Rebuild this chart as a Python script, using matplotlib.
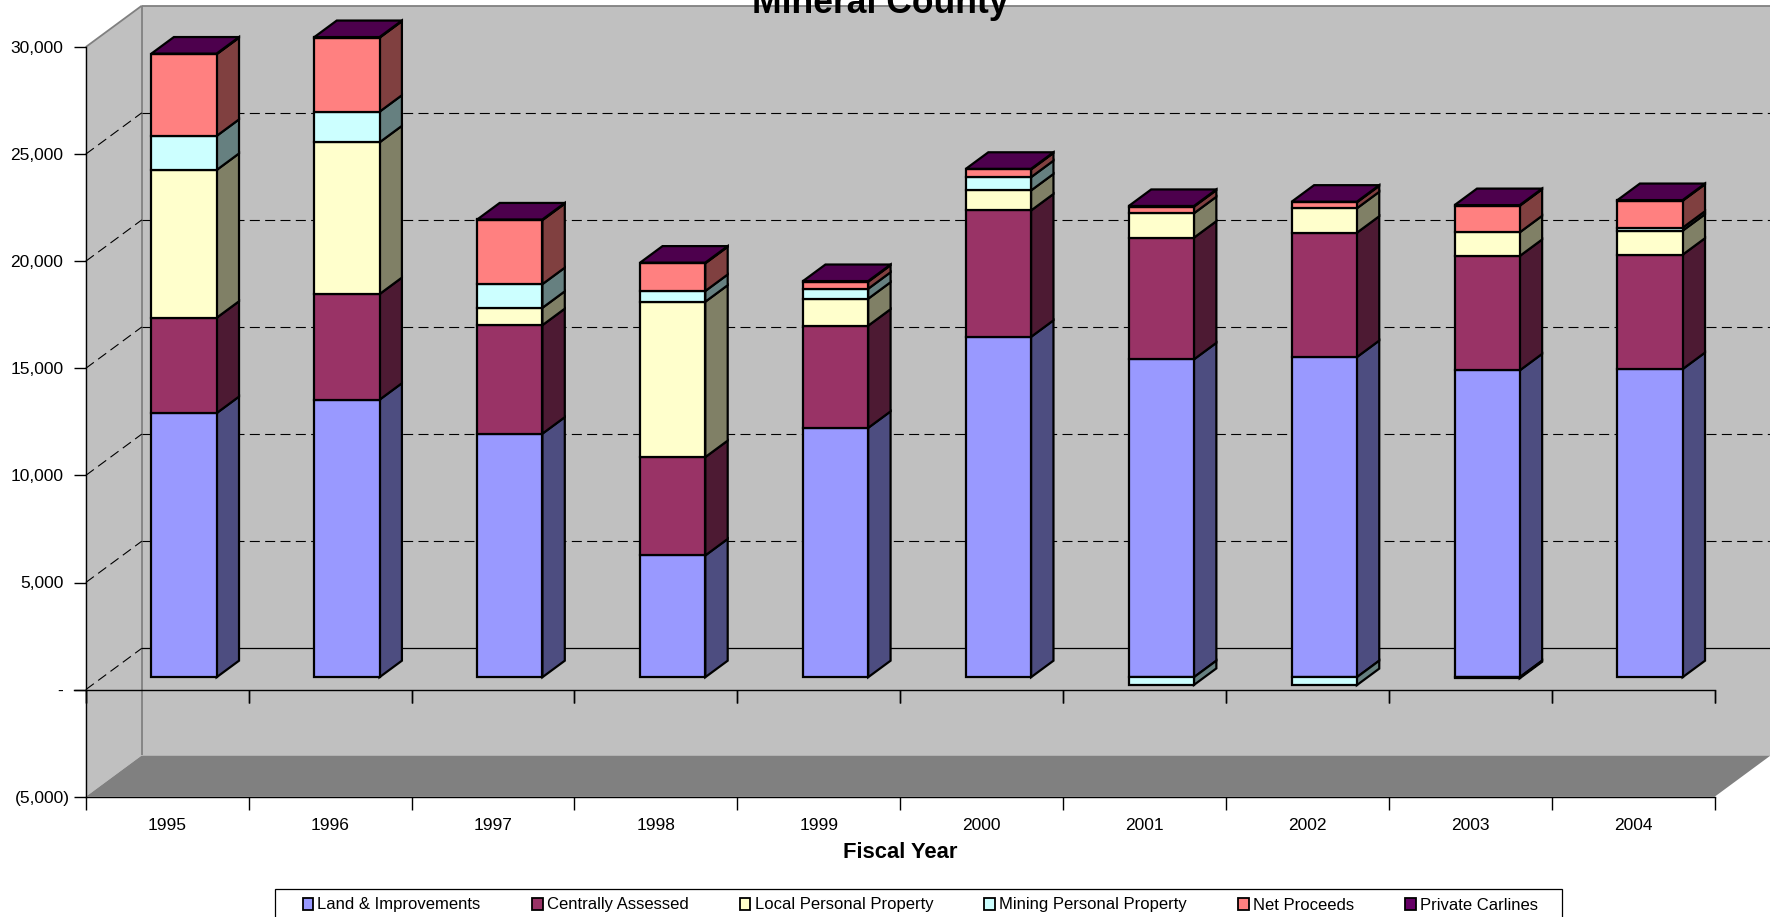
import matplotlib
matplotlib.use("Agg")
import matplotlib.pyplot as plt
from matplotlib.patches import Polygon, Patch, Rectangle
from matplotlib.transforms import ScaledTranslation

plt.rcParams['font.family'] = ['Liberation Sans', 'DejaVu Sans']

years = ['1995', '1996', '1997', '1998', '1999', '2000', '2001', '2002', '2003', '2004']
land = [12330, 12955, 11370, 5685, 11640, 15890, 14840, 14945, 14325, 14385]
centrally = [4450, 4930, 5065, 4590, 4770, 5900, 5680, 5805, 5340, 5340]
local_pp = [6900, 7085, 810, 7255, 1260, 935, 1140, 1140, 1105, 1120]
mining_pp = [1590, 1430, 1105, 500, 465, 620, -360, -370, -50, 140]
net_proceeds = [3815, 3455, 2990, 1295, 330, 360, 310, 280, 1240, 1260]
private_carlines = [30, 30, 30, 30, 30, 30, 30, 30, 30, 30]

series_names = ['Land & Improvements', 'Centrally Assessed', 'Local Personal Property',
                'Mining Personal Property', 'Net Proceeds', 'Private Carlines']
series_values = [land, centrally, local_pp, mining_pp, net_proceeds, private_carlines]
front_colors = ['#9999FF', '#993366', '#FFFFCC', '#CCFFFF', '#FF8080', '#660066']
side_colors = ['#4D4D80', '#4D1A33', '#808066', '#668080', '#804040', '#330033']
top_colors = ['#7373BF', '#73264D', '#BFBF99', '#99BFBF', '#BF6060', '#4D004D']

yticks = [-5000, 0, 5000, 10000, 15000, 20000, 25000, 30000]
gridvals = [5000, 10000, 15000, 20000, 25000]

W, H = 1770, 917
fig = plt.figure(figsize=(W / 100, H / 100), dpi=100, facecolor='white')
L, R, T, B = 85.8, 1714.7, 47.0, 796.7
ax = fig.add_axes([L / W, 1 - B / H, (R - L) / W, (B - T) / H])
ax.set_xlim(0, len(years))
ax.set_ylim(yticks[0], yticks[-1])
ax.patch.set_visible(False)

DX = 56.0 / ((R - L) / len(years))
DY = 41.3 / ((B - T) / (yticks[-1] - yticks[0]))
X1 = len(years)
Y0, Y1 = yticks[0], yticks[-1]


def proj(x, v, d):
    return (x + d * DX, v + d * DY)


def poly(pts, fc, ec='none', lw=0.0, z=1.0):
    ax.add_patch(Polygon(pts, closed=True, facecolor=fc, edgecolor=ec, linewidth=lw,
                         zorder=z, clip_on=False, joinstyle='miter'))


def seg(a, b, **kw):
    ax.plot([a[0], b[0]], [a[1], b[1]], clip_on=False, **kw)


# Walls and floor
wall = '#C0C0C0'
poly([proj(0, Y0, 1), proj(X1, Y0, 1), proj(X1, Y1, 1), proj(0, Y1, 1)], wall, z=0.5)
poly([proj(0, Y0, 0), proj(0, Y0, 1), proj(0, Y1, 1), proj(0, Y1, 0)], wall, z=0.5)
poly([proj(0, Y0, 0), proj(X1, Y0, 0), proj(X1, Y0, 1), proj(0, Y0, 1)], '#808080', z=0.6)
edge = dict(color='#808080', lw=1.3, zorder=0.8, solid_capstyle='butt')
seg(proj(0, Y1, 1), proj(X1, Y1, 1), **edge)
seg(proj(0, Y1, 0), proj(0, Y1, 1), **edge)
seg(proj(0, Y0, 1), proj(0, Y1, 1), **edge)
seg(proj(X1, Y0, 1), proj(X1, Y1, 1), **edge)

# Gridlines
dash = dict(color='black', lw=0.8, zorder=1.0, linestyle=(0, (9, 4.8)))
for g in gridvals:
    seg(proj(0, g, 0), proj(0, g, 1), **dash)
    seg(proj(0, g, 1), proj(X1, g, 1), **dash)
seg(proj(0, 0, 0), proj(0, 0, 1), **dash)
seg(proj(0, 0, 1), proj(X1, 0, 1), color='black', lw=0.9, zorder=1.0)

# Stacked 3-D bars
D0, D1 = 0.3, 0.7
BL, BW = 0.3, 0.4
LW = 1.6
for i in range(len(years)):
    left, right = i + BL, i + BL + BW
    pos, neg = 0.0, 0.0
    top_series = 0
    for s, vals in enumerate(series_values):
        v = vals[i]
        if v >= 0:
            lo, hi = pos, pos + v
            pos = hi
            top_series = s
        else:
            lo, hi = neg + v, neg
            neg = lo
        poly([proj(right, lo, D0), proj(right, lo, D1), proj(right, hi, D1), proj(right, hi, D0)],
             side_colors[s], 'black', LW, 3.0)
        poly([proj(left, lo, D0), proj(right, lo, D0), proj(right, hi, D0), proj(left, hi, D0)],
             front_colors[s], 'black', LW, 3.1)
    poly([proj(left, pos, D0), proj(right, pos, D0), proj(right, pos, D1), proj(left, pos, D1)],
         top_colors[top_series], 'black', LW, 3.2)

# Axes
for name in ('top', 'right'):
    ax.spines[name].set_visible(False)
for name in ('left', 'bottom'):
    ax.spines[name].set_linewidth(1.0)
    ax.spines[name].set_zorder(2.0)


def fmt(v):
    if v == 0:
        return '-'
    return f'({-v:,})' if v < 0 else f'{v:,}'


ax.set_yticks(yticks, [fmt(v) for v in yticks])
ax.tick_params(axis='y', length=8.8, width=1.0, pad=2.6, labelsize=12.5)
for v, lab in zip(yticks, ax.get_yticklabels()):
    if v >= 0:
        lab.set_transform(lab.get_transform() + ScaledTranslation(-6.5 / 100, 0, fig.dpi_scale_trans))

ax.set_xticks(range(len(years) + 1), [''] * (len(years) + 1))
ax.set_xticks([i + 0.5 for i in range(len(years))], years, minor=True)
ax.tick_params(axis='x', which='major', length=9.2, width=1.0)
ax.tick_params(axis='x', which='minor', length=0, pad=15, labelsize=12.5)
ax.set_xlabel('Fiscal Year', fontsize=15.8, fontweight='bold', labelpad=6.6)

# Category axis at zero with its tick marks
ax.axhline(0, color='black', lw=1.0, zorder=2.0, clip_on=False)
seg((0, 0), ax.transData.inverted().transform(ax.transData.transform((0, 0)) + (-12, 0)),
    color='black', lw=1.0, zorder=2.0)
for i in range(len(years) + 1):
    ax.plot([i, i], [0, 0], marker=3, markersize=9.2, markeredgewidth=1.0, color='black',
            zorder=2.0, clip_on=False, linestyle='none')

ax.set_title('Mineral County', fontsize=25.6, fontweight='bold', x=(880 - L) / (R - L), pad=24.4, zorder=5)

# Legend
fig.add_artist(Rectangle((275.4 / W, -0.01), (1562 - 275.4) / W, 1 - 889 / H + 0.01,
                         transform=fig.transFigure, facecolor='white', edgecolor='black',
                         linewidth=0.9, zorder=1))
handles = [Patch(facecolor=c, edgecolor='black', linewidth=1.3) for c in front_colors]
leg = fig.legend(handles, series_names, ncol=6, loc='center left',
                 bbox_to_anchor=(302.5 / W, 1 - 905 / H), frameon=False, fontsize=11.95,
                 handlelength=0.65, handleheight=0.71, handletextpad=0.25, columnspacing=3.08,
                 borderpad=0, borderaxespad=0)
leg.set_zorder(2)

fig.savefig('out.png', dpi=100)
